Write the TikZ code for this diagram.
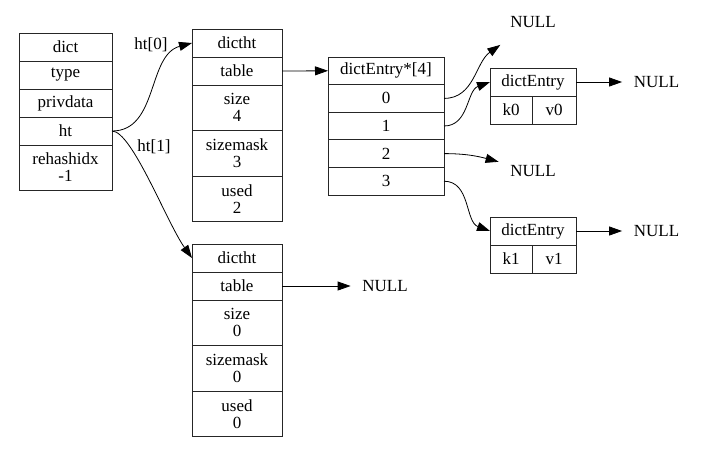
\documentclass[tikz,border=0pt]{standalone}
\usepackage{fontspec}
\setmainfont{Liberation Serif}
\usetikzlibrary{arrows.meta, positioning}

\begin{document}
\begin{tikzpicture}[
            x = 1pt, y = 1pt,
            > = {Triangle[length=13pt,width=9pt]}, % arrow head style
            line width = 0.8pt, % line style
            every node/.style = {font=\fontsize{17}{17}\selectfont}
        ]

        \tikzstyle{cell}=[
            draw = black!85,
            rectangle,
            inner sep = 0pt,
            outer sep = 0pt,
            minimum height = 28pt,
            align = center
        ]
        \tikzstyle{tall}=[cell, minimum height = 45.5pt]
        \tikzstyle{null}=[
            minimum width = 68pt,
            minimum height = 45pt,
            inner sep = 0pt
        ]

        \useasboundingbox (0,0) rectangle (706,-456);

        % dict
        \node[cell, minimum width=93pt, anchor=north west] (dict) at (19,-33) {dict};
        \node[cell, minimum width=93pt] (type) [below=0pt of dict] {type};
        \node[cell, minimum width=93pt] (privdata) [below=0pt of type] {privdata};
        \node[cell, minimum width=93pt] (ht) [below=0pt of privdata] {ht};
        \node[tall, minimum width=93pt, minimum height=45pt] (rehash) [below=0pt of ht] {rehashidx\\-1};

        % ht[0]
        \node[cell, minimum width=90pt, anchor=north west] (t0name) at (192,-29) {dictht};
        \node[cell, minimum width=90pt] (t0table) [below=0pt of t0name] {table};
        \node[tall, minimum width=90pt] (t0size) [below=0pt of t0table] {size\\4};
        \node[tall, minimum width=90pt] (t0mask) [below=0pt of t0size] {sizemask\\3};
        \node[tall, minimum width=90pt] (t0used) [below=0pt of t0mask] {used\\2};

        % ht[1]
        \node[cell, minimum width=90pt, anchor=north west] (t1name) at (192,-244) {dictht};
        \node[cell, minimum width=90pt] (t1table) [below=0pt of t1name] {table};
        \node[tall, minimum width=90pt] (t1size) [below=0pt of t1table] {size\\0};
        \node[tall, minimum width=90pt] (t1mask) [below=0pt of t1size] {sizemask\\0};
        \node[tall, minimum width=90pt] (t1used) [below=0pt of t1mask] {used\\0};

        % table
        \node[cell, minimum width=116pt, minimum height=27.6pt, anchor=north west] (arrname) at (328,-57) {dictEntry*[4]};
        \node[cell, minimum width=116pt, minimum height=27.6pt] (a0) [below=0pt of arrname] {0};
        \node[cell, minimum width=116pt, minimum height=27.6pt] (a1) [below=0pt of a0] {1};
        \node[cell, minimum width=116pt, minimum height=27.6pt] (a2) [below=0pt of a1] {2};
        \node[cell, minimum width=116pt, minimum height=27.6pt] (a3) [below=0pt of a2] {3};

        % entries
        \node[cell, minimum width=86pt, anchor=north west] (e0name) at (490,-68) {dictEntry};
        \node[cell, minimum width=42pt, anchor=north west] (k0) at (e0name.south west) {k0};
        \node[cell, minimum width=44pt] (v0) [right=0pt of k0] {v0};

        \node[cell, minimum width=86pt, anchor=north west] (e1name) at (490,-217) {dictEntry};
        \node[cell, minimum width=42pt, anchor=north west] (k1) at (e1name.south west) {k1};
        \node[cell, minimum width=44pt] (v1) [right=0pt of k1] {v1};

        % NULLs
        \node[null] (nullA) at (533,-22) {NULL};
        \node[null] (nullB) at (656.5,-82) {NULL};
        \node[null] (nullC) at (533,-171) {NULL};
        \node[null] (nullD) at (656.5,-231) {NULL};
        \node[null] (nullE) at (385,-286) {NULL};

        \node (lbl0) at (151,-45) {ht[0]};
        \node (lbl1) at (154,-147) {ht[1]};

        \path[->] (ht) edge[out=0, in=195] (t0name.west);
        \draw[->] (ht.east) .. controls +(20,0) and +(-25,35) .. (t1name.west);
        \path[->] (t0table.east) edge (arrname.west);
        \path[->] (t1table) edge (nullE);
        \path[->] (a0) edge[out=0, in=215] (nullA);
        \path[->] (a1) edge[out=0, in=200] (e0name.west);
        \path[->] (a2) edge[out=0, in=165] (nullC);
        \path[->] (a3) edge[out=0, in=160] (e1name.west);
        \path[->] (e0name) edge (nullB);
        \path[->] (e1name) edge (nullD);
    \end{tikzpicture}
\end{document}
